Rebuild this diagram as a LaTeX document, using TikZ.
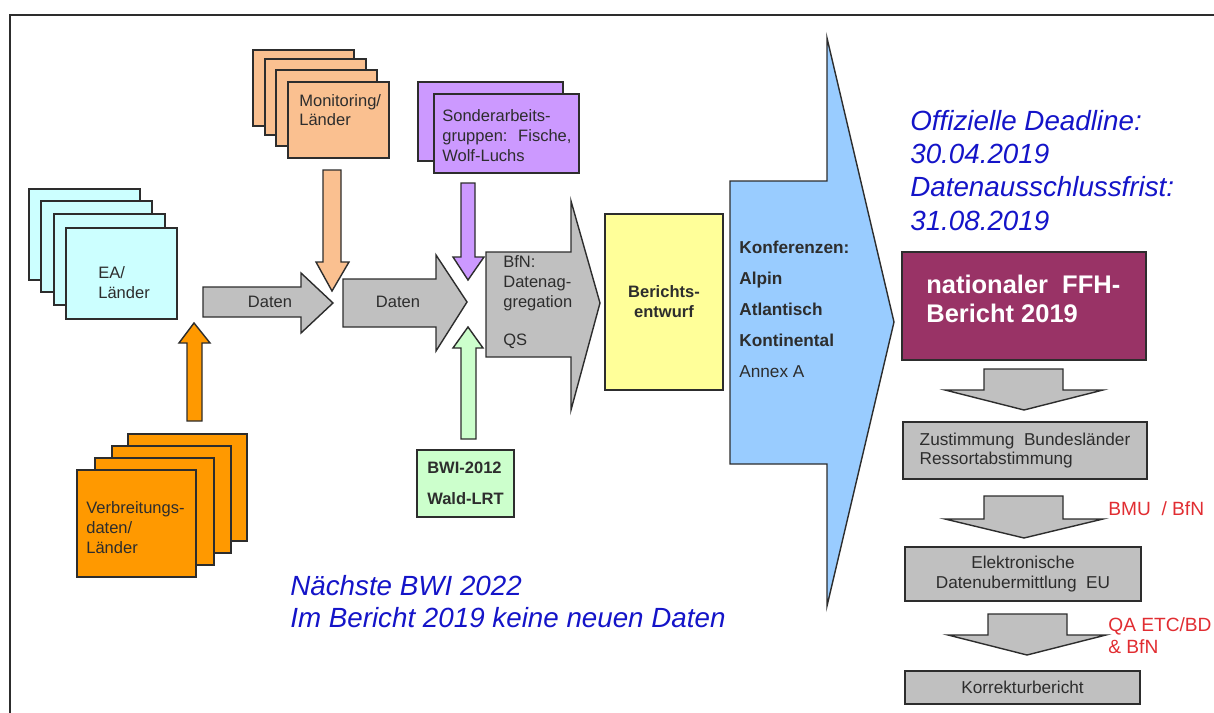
\documentclass[tikz,border=0pt]{standalone}
\usepackage{fontspec}
\setmainfont{Liberation Sans}
\definecolor{eaCyan}{RGB}{204,255,255}
\definecolor{monPeach}{RGB}{250,192,144}
\definecolor{verbOrange}{RGB}{255,153,0}
\definecolor{sagPurple}{RGB}{204,153,255}
\definecolor{bwiGreen}{RGB}{204,255,204}
\definecolor{flowGray}{RGB}{192,192,192}
\definecolor{berYellow}{RGB}{255,255,153}
\definecolor{konfBlue}{RGB}{153,204,255}
\definecolor{ffhMaroon}{RGB}{153,51,102}
\definecolor{noteBlue}{RGB}{20,20,200}
\definecolor{noteRed}{RGB}{225,45,50}
\definecolor{inkGray}{RGB}{45,45,45}
\tikzstyle{card} = [draw=inkGray, line width=0.8pt]
\tikzstyle{flow} = [draw=inkGray, line width=0.8pt, fill=flowGray]
\tikzstyle{txt} = [inner sep=0pt, text=inkGray, align=left, font=\fontsize{9.4}{11.3}\selectfont]
\tikzstyle{panel} = [draw=inkGray, line width=0.8pt, inner sep=0pt, align=center, text=inkGray, font=\fontsize{9.8}{11.3}\selectfont]
\tikzstyle{note} = [inner sep=0pt, align=left, text=noteBlue, font=\fontsize{15.8}{18.8}\selectfont\itshape]
\tikzstyle{remark} = [inner sep=0pt, align=left, text=noteRed, font=\fontsize{10.9}{12}\selectfont]

\begin{document}
\begin{tikzpicture}[x=0.02cm, y=-0.02cm]
    \useasboundingbox (0,0) rectangle (1214,713);
    \draw [line width=0.8pt, inkGray] (10,713) -- (10,15) -- (1214,15);

    % gestapelte Blaetter
    \foreach \dx/\dy in {0/0,12/12,25/25,37/39}
        \draw [card, fill=eaCyan] (29+\dx,189+\dy) rectangle +(111,91);
    \foreach \dx/\dy in {0/0,12/9,23/20,35/32}
        \draw [card, fill=monPeach] (253+\dx,50+\dy) rectangle +(101,76);
    \foreach \dx/\dy in {0/0,16/12}
        \draw [card, fill=sagPurple] (418+\dx,82+\dy) rectangle +(145,79);
    \foreach \dx/\dy in {0/0,-16/12,-33/24,-51/36}
        \draw [card, fill=verbOrange] (128+\dx,434+\dy) rectangle +(119,107);

    % base = Grundlinie der letzten Zeile
    \node [txt, anchor=base west] (eaLaender) at (98,298) {EA/\\Länder};
    \node [txt, anchor=base west] (monitoring) at (299,126) {Monitoring/\\Länder};
    \node [txt, anchor=base west] (sonderAG) at (442,161) {Sonderarbeits-\\gruppen:~ Fische,\\Wolf-Luchs};
    \node [txt, anchor=base west] (verbreitung) at (86,553) {Verbreitungs-\\daten/\\Länder};

    % Blockpfeile
    \path [flow, fill=verbOrange] (187,421) -- (187,343) -- (179,343) -- (194,323) -- (210,343) -- (202,343) -- (202,421) -- cycle;
    \path [flow, fill=monPeach] (323,170) -- (341,170) -- (341,262) -- (349,262) -- (332,291) -- (316,262) -- (323,262) -- cycle;
    \path [flow, fill=sagPurple] (461,183) -- (475,183) -- (475,257) -- (484,257) -- (468,280) -- (453,257) -- (461,257) -- cycle;
    \path [flow, fill=bwiGreen] (461,439) -- (461,348) -- (453,348) -- (468,327) -- (483,348) -- (476,348) -- (476,439) -- cycle;
    \path [flow] (203,287) -- (301,287) -- (301,273) -- (333,303) -- (301,333) -- (301,317) -- (203,317) -- cycle;
    \path [flow] (343,279) -- (436,279) -- (436,255) -- (467,302) -- (436,351) -- (436,327) -- (343,327) -- cycle;
    \path [flow] (486,252) -- (571,252) -- (571,201) -- (600,303) -- (571,410) -- (571,357) -- (486,357) -- cycle;
    \path [flow, fill=konfBlue] (730,181) -- (827,181) -- (827,38) -- (894,322) -- (827,606) -- (827,464) -- (730,464) -- cycle;

    \node [txt] (datenA) at (270,302) {Daten};
    \node [txt] (datenB) at (398,302) {Daten};
    \node [txt, anchor=base west] (bfnAggregation) at (503,345) {BfN:\\Datenag-\\gregation\\[10pt]QS};
    \node [txt, anchor=base west, font=\fontsize{9.8}{17.6}\selectfont] (konferenzen) at (739,377)
        {\textbf{Konferenzen:}\\\textbf{Alpin}\\\textbf{Atlantisch}\\\textbf{Kontinental}\\Annex A};

    \node [panel, fill=berYellow, minimum width=2.36cm, minimum height=3.52cm, font=\fontsize{9.4}{11.3}\selectfont\bfseries] (berichtsEntwurf) at (664,302) {Berichts-\\entwurf};
    \node [panel, fill=bwiGreen, minimum width=1.94cm, minimum height=1.34cm, align=left, font=\fontsize{9.4}{17.6}\selectfont\bfseries] (bwiWald) at (465.5,483.5) {BWI-2012\\Wald-LRT};

    % rechte Spalte
    \node [note, anchor=base west] (deadline) at (910,230) {Offizielle Deadline:\\30.04.2019\\Datenausschlussfrist:\\31.08.2019};
    \node [panel, fill=ffhMaroon, minimum width=4.88cm, minimum height=2.16cm] (ffhBericht) at (1024,306) {};
    \node [inner sep=0pt, anchor=base west, align=left, text=white, font=\fontsize{14.5}{16.4}\selectfont\bfseries] (ffhText) at (926,322) {nationaler\ \ FFH-\\Bericht 2019};

    \path [flow] (984,369) -- (1063,369) -- (1063,390) -- (1103,390) -- (1024,410) -- (945,390) -- (984,390) -- cycle;
    \path [flow] (984,496) -- (1063,496) -- (1063,519) -- (1103,519) -- (1024,538) -- (945,519) -- (984,519) -- cycle;
    \path [flow] (988,614) -- (1067,614) -- (1067,635) -- (1106,635) -- (1027,655) -- (948,635) -- (988,635) -- cycle;

    \node [panel, fill=flowGray, minimum width=4.88cm, minimum height=1.14cm, align=left] (zustimmung) at (1025,450.5) {Zustimmung\ \ Bundesländer\\Ressortabstimmung};
    \node [panel, fill=flowGray, minimum width=4.72cm, minimum height=1.08cm] (datenuebermittlung) at (1023,574) {Elektronische\\Datenubermittlung\ \ EU};
    \node [panel, fill=flowGray, minimum width=4.70cm, minimum height=0.66cm] (korrektur) at (1022.5,687.5) {Korrekturbericht};

    \node [remark, anchor=base west] (bmuLabel) at (1108,515) {BMU\ \ /\ BfN};
    \node [remark, anchor=base west] (qaLabel) at (1108,653) {QA ETC/BD\\\& BfN};

    \node [note, anchor=base west, font=\fontsize{15.8}{18.1}\selectfont\itshape] (naechsteBwi) at (290,627) {Nächste BWI 2022\\Im Bericht 2019 keine neuen Daten};
\end{tikzpicture}
\end{document}
